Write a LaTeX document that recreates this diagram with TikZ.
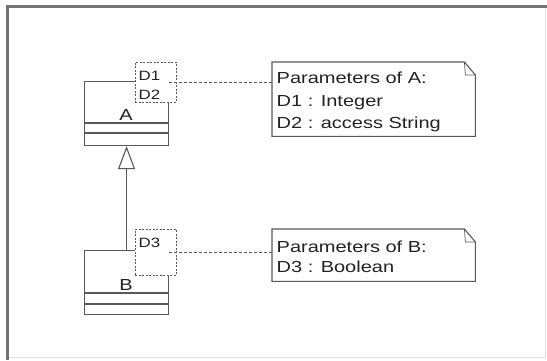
\documentclass[tikz,border=0pt]{standalone}
\usepackage{fontspec}
\setmainfont{Liberation Sans}[FakeStretch=1.25]
\usetikzlibrary{arrows.meta}
\definecolor{umlgray}{HTML}{585858}
\definecolor{umltext}{HTML}{222222}

\begin{document}
\begin{tikzpicture}[x=1pt, y=-1pt,
  umlline/.style={draw=umlgray, line width=1.1pt},
  classbox/.style={umlline, fill=white, minimum width=84pt, inner sep=0pt, anchor=north west},
  tplbox/.style={draw=umlgray, line width=0.9pt, dash pattern=on 2pt off 1.5pt, fill=white, minimum width=41pt, inner sep=0pt, anchor=north west},
  notebox/.style={minimum width=203pt, inner sep=0pt, anchor=north west},
  notetext/.style={inner sep=0pt, anchor=west, align=left, text=umltext},
  noteline/.style={draw=umlgray, line width=0.8pt, dash pattern=on 3pt off 2pt}]
  \useasboundingbox (0,0) rectangle (547,360);
  % frame
  \draw[black!12, line width=1pt] (7.5,6.5) rectangle (545,357);
  \draw[black!55, line width=3pt] (7.5,360) -- (7.5,6.5) -- (547,6.5);
  % classes
  \node[classbox, minimum height=64pt] (clsA) at (84,81) {};
  \node[classbox, minimum height=64pt] (clsB) at (84,250) {};
  \draw[umlline] ([yshift=-42pt]clsA.north west) -- ([yshift=-42pt]clsA.north east);
  \draw[umlline] ([yshift=-52pt]clsA.north west) -- ([yshift=-52pt]clsA.north east);
  \draw[umlline] ([yshift=-43pt]clsB.north west) -- ([yshift=-43pt]clsB.north east);
  \draw[umlline] ([yshift=-54pt]clsB.north west) -- ([yshift=-54pt]clsB.north east);
  \node[notetext, anchor=center, font=\fontsize{16}{18}\selectfont] (lblA) at (126,115) {A};
  \node[notetext, anchor=center, font=\fontsize{16}{18}\selectfont] (lblB) at (126,285) {B};
  % template parameters
  \node[tplbox, minimum height=40pt] (tplA) at (135,62) {};
  \node[tplbox, minimum height=46pt] (tplB) at (135,229) {};
  \node[notetext, font=\fontsize{13.5}{19}\selectfont] (parA) at (138.5,85.5) {D1\\D2};
  \node[notetext, font=\fontsize{13.5}{19}\selectfont] (parB) at (138.5,243) {D3};
  % generalization
  \draw[umlline, -{Triangle[open, width=17pt, length=23pt]}] (clsB.north) -- (clsA.south);
  % notes
  \node[notebox, minimum height=74pt] (noteA) at (272,62) {};
  \node[notebox, minimum height=52pt] (noteB) at (272,229) {};
  \foreach \n in {noteA, noteB} {
    \draw[umlline] (\n.north west) -- ([xshift=-11pt]\n.north east) -- ([yshift=-13pt]\n.north east) -- (\n.south east) -- (\n.south west) -- cycle;
    \draw[umlline, line width=0.7pt] ([xshift=-11pt]\n.north east) -- ([xshift=-10pt, yshift=-13pt]\n.north east) -- ([yshift=-13pt]\n.north east);
  }
  \node[notetext, font=\fontsize{16}{22.5}\selectfont] (txtA) at (276.5,102) {Parameters of A:\\D1 : Integer\\D2 : access String};
  \node[notetext, font=\fontsize{16}{20.5}\selectfont] (txtB) at (276.5,257) {Parameters of B:\\D3 : Boolean};
  % attachments
  \draw[noteline] (clsA.east |- tplA.center) -- (noteA.west |- tplA.center);
  \draw[noteline] (clsB.east |- tplB.center) -- (noteB.west |- tplB.center);
\end{tikzpicture}
\end{document}
